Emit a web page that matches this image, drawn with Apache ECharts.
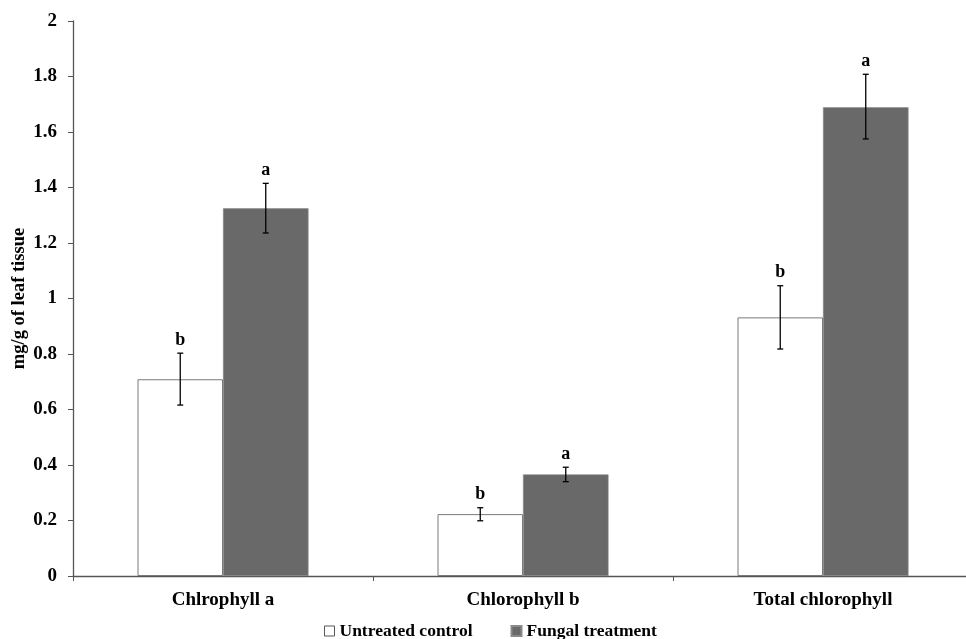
<!DOCTYPE html>
<html>
<head>
<meta charset="utf-8">
<script src="https://cdn.jsdelivr.net/npm/echarts@6/dist/echarts.min.js"></script>
<style>html,body{margin:0;padding:0;background:#fff}#c{width:966px;height:639px}</style>
</head>
<body>
<div id="c"></div>
<script>
var categories = ['Chlrophyll a', 'Chlorophyll b', 'Total chlorophyll'];
var seriesNames = ['Untreated control', 'Fungal treatment'];
var controlValues = [0.709, 0.223, 0.932];
var controlErrLow = [0.616, 0.199, 0.818];
var controlErrHigh = [0.803, 0.246, 1.046];
var controlLetters = ['b', 'b', 'b'];
var fungalValues = [1.325, 0.366, 1.689];
var fungalErrLow = [1.236, 0.340, 1.575];
var fungalErrHigh = [1.415, 0.392, 1.808];
var fungalLetters = ['a', 'a', 'a'];
var yTicks = [0, 0.2, 0.4, 0.6, 0.8, 1, 1.2, 1.4, 1.6, 1.8, 2];

var FONT = '"Liberation Serif", "Times New Roman", serif';
var chart = echarts.init(document.getElementById('c'));

function errData(low, high, letters) {
  return categories.map(function (c, i) { return [i, low[i], high[i], letters[i]]; });
}
function errSeries(low, high, letters, side) {
  return {
    type: 'custom',
    silent: true,
    z: 10,
    data: errData(low, high, letters),
    encode: { x: 0, y: [1, 2] },
    renderItem: function (params, api) {
      var idx = api.value(0);
      var band = api.size([1, 0])[0];
      var off = side * band * 0.1425;
      var lo = api.coord([idx, api.value(1)]);
      var hi = api.coord([idx, api.value(2)]);
      var x = lo[0] + off;
      var cap = 3;
      var st = { stroke: '#000', lineWidth: 1.3 };
      return {
        type: 'group',
        children: [
          { type: 'line', shape: { x1: x, y1: hi[1], x2: x, y2: lo[1] }, style: st },
          { type: 'line', shape: { x1: x - cap, y1: hi[1], x2: x + cap, y2: hi[1] }, style: st },
          { type: 'line', shape: { x1: x - cap, y1: lo[1], x2: x + cap, y2: lo[1] }, style: st },
          { type: 'text', style: { text: api.value(3), x: x, y: hi[1] - 13, textAlign: 'center', textVerticalAlign: 'middle', font: 'bold 18px ' + FONT, fill: '#000' } }
        ]
      };
    }
  };
}

chart.setOption({
  animation: false,
  backgroundColor: '#fff',
  grid: { left: 73, top: 21, width: 900, height: 555, containLabel: false, outerBoundsMode: 'none' },
  legend: {
    top: 617,
    left: 319,
    itemWidth: 10,
    itemHeight: 10,
    itemGap: 38,
    icon: 'rect',
    textStyle: { fontFamily: FONT, fontWeight: 'bold', fontSize: 17.5, color: '#000' },
    data: [
      { name: seriesNames[0], itemStyle: { color: '#fff', borderColor: '#555', borderWidth: 1 } },
      { name: seriesNames[1], itemStyle: { color: '#696969' } }
    ]
  },
  xAxis: {
    type: 'category',
    data: categories,
    axisLine: { lineStyle: { color: '#555', width: 1.3 } },
    axisTick: { show: true, length: 5, lineStyle: { color: '#555' } },
    axisLabel: { fontFamily: FONT, fontWeight: 'bold', fontSize: 19, color: '#000', margin: 15 }
  },
  yAxis: {
    type: 'value',
    min: 0,
    max: 2,
    interval: 0.2,
    name: 'mg/g of leaf tissue',
    nameLocation: 'middle',
    nameGap: 44,
    nameMoveOverlap: false,
    nameTextStyle: { fontFamily: FONT, fontWeight: 'bold', fontSize: 18.5, color: '#000' },
    axisLine: { show: true, lineStyle: { color: '#555', width: 1.3 } },
    axisTick: { show: true, length: 5, lineStyle: { color: '#555' } },
    splitLine: { show: false },
    axisLabel: {
      fontFamily: FONT, fontWeight: 'bold', fontSize: 19, color: '#000', margin: 16,
      formatter: function (v) { return String(Math.round(v * 10) / 10); }
    }
  },
  series: [
    {
      name: seriesNames[0], type: 'bar', data: controlValues,
      barGap: '0%', barCategoryGap: '43%',
      itemStyle: { color: '#fff', borderColor: '#7a7a7a', borderWidth: 1 }
    },
    {
      name: seriesNames[1], type: 'bar', data: fungalValues,
      barGap: '0%', barCategoryGap: '43%',
      itemStyle: { color: '#696969', borderColor: '#8a8a8a', borderWidth: 0.6 }
    },
    errSeries(controlErrLow, controlErrHigh, controlLetters, -1),
    errSeries(fungalErrLow, fungalErrHigh, fungalLetters, 1)
  ]
});
</script>
</body>
</html>
